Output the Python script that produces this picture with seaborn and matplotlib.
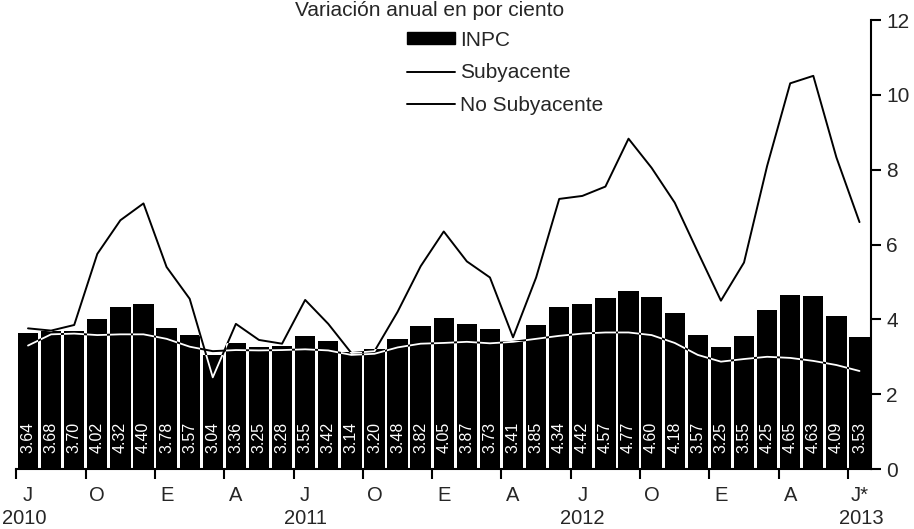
import matplotlib
matplotlib.use("Agg")
import matplotlib.pyplot as plt
import matplotlib.transforms as mtransforms
import seaborn as sns
import pandas as pd
import numpy as np
from matplotlib.path import Path
from matplotlib.patches import Patch
from matplotlib.lines import Line2D

sns.set_theme(style="white")
plt.rcParams["font.family"] = ["Liberation Sans", "DejaVu Sans"]

# -----------------------------
# DATA (julio 2010 - julio 2013)
# -----------------------------
inpc = [3.64, 3.68, 3.70, 4.02, 4.32, 4.40, 3.78, 3.57, 3.04, 3.36, 3.25, 3.28,
        3.55, 3.42, 3.14, 3.20, 3.48, 3.82, 4.05, 3.87, 3.73, 3.41, 3.85, 4.34,
        4.42, 4.57, 4.77, 4.60, 4.18, 3.57, 3.25, 3.55, 4.25, 4.65, 4.63, 4.09,
        3.53]

subyacente = [3.30, 3.60, 3.62, 3.58, 3.60, 3.60, 3.48, 3.27, 3.15, 3.18, 3.17, 3.18,
              3.20, 3.17, 3.05, 3.08, 3.25, 3.35, 3.37, 3.40, 3.36, 3.40, 3.48, 3.56,
              3.62, 3.65, 3.65, 3.58, 3.37, 3.05, 2.87, 2.94, 3.00, 2.97, 2.89, 2.78,
              2.62]

no_subyacente = [3.76, 3.70, 3.85, 5.75, 6.65, 7.10, 5.40, 4.55, 2.45, 3.88, 3.45, 3.35,
                 4.52, 3.88, 3.10, 3.15, 4.20, 5.42, 6.35, 5.55, 5.12, 3.52, 5.12, 7.22,
                 7.30, 7.55, 8.83, 8.05, 7.12, 5.80, 4.50, 5.52, 8.10, 10.31, 10.51, 8.33,
                 6.60]

tick_labels = ["J", "O", "E", "A", "J", "O", "E", "A", "J", "O", "E", "A", "J*"]
years = ["2010", "2011", "2012", "2013"]

df = pd.DataFrame({
    "mes": range(len(inpc)),
    "INPC": inpc,
    "Subyacente": subyacente,
    "No Subyacente": no_subyacente,
})

# -----------------------------
# PLOT
# -----------------------------
fig = plt.figure(figsize=(9.14, 5.29), dpi=100)
ax = fig.add_axes([0.018, 0.1134, 0.935, 0.8486])

# black lines behind the bars
for col in ["Subyacente", "No Subyacente"]:
    sns.lineplot(data=df, x="mes", y=col, color="black", linewidth=1.4,
                 ax=ax, zorder=1)

sns.barplot(data=df, x="mes", y="INPC", color="black", saturation=1,
            width=0.88, ax=ax, zorder=2, linewidth=0)

# white copies of the lines, only visible inside the bars
bars = list(ax.patches)
clip = Path.make_compound_path(
    *[b.get_path().transformed(b.get_patch_transform()) for b in bars]
)
for col in ["Subyacente", "No Subyacente"]:
    ln, = ax.plot(df["mes"], df[col], color="white", linewidth=1.3, zorder=3)
    ln.set_clip_path(clip, ax.transData)

# value labels inside bars
for i, v in enumerate(inpc):
    ax.text(i, 0.85, f"{v:.2f}", rotation=90, color="white",
            ha="center", va="center", fontsize=11.5, zorder=4)

ax.set_xlim(-0.5, len(inpc) - 0.5)
ax.set_ylim(0, 12)

# axes styling
for s in ["left", "top"]:
    ax.spines[s].set_visible(False)
for s in ["right", "bottom"]:
    ax.spines[s].set_color("black")
    ax.spines[s].set_linewidth(1.5)

ax.yaxis.tick_right()
ax.set_yticks(range(0, 13, 2))
ax.tick_params(axis="y", which="major", right=True, length=7, width=1.5,
               color="black", labelsize=15, pad=4)

ax.set_xticks(np.arange(-0.5, len(inpc), 3))
ax.set_xticklabels([])
ax.set_xticks(range(0, len(inpc), 3), minor=True)
ax.set_xticklabels(tick_labels, minor=True)
ax.tick_params(axis="x", which="major", bottom=True, length=7, width=1.5,
               color="black")
ax.tick_params(axis="x", which="minor", bottom=True, length=0,
               labelsize=14.5, pad=12)

ax.set_xlabel("")
ax.set_ylabel("")

trans = mtransforms.blended_transform_factory(ax.transData, fig.transFigure)
for x, yr in zip([-0.15, 12, 24, 36.1], years):
    ax.text(x, 1 - 518 / 529, yr, transform=trans, ha="center", va="center",
            fontsize=14.5)

# legend
handles = [
    Patch(facecolor="black", edgecolor="black"),
    Line2D([], [], color="black", linewidth=1.4),
    Line2D([], [], color="black", linewidth=1.4),
]
fig.legend(handles, ["INPC", "Subyacente", "No Subyacente"],
           loc="upper left", bbox_to_anchor=(0.445, 0.942),
           bbox_transform=fig.transFigure, frameon=False, fontsize=15,
           borderpad=0, borderaxespad=0, labelspacing=0.65,
           handlelength=2.3, handletextpad=0.25, handleheight=0.5)

fig.text(430 / 914, 1 - 16 / 529, "Variación anual en por ciento",
         ha="center", va="baseline", fontsize=15)

fig.savefig("out.png", dpi=100)
